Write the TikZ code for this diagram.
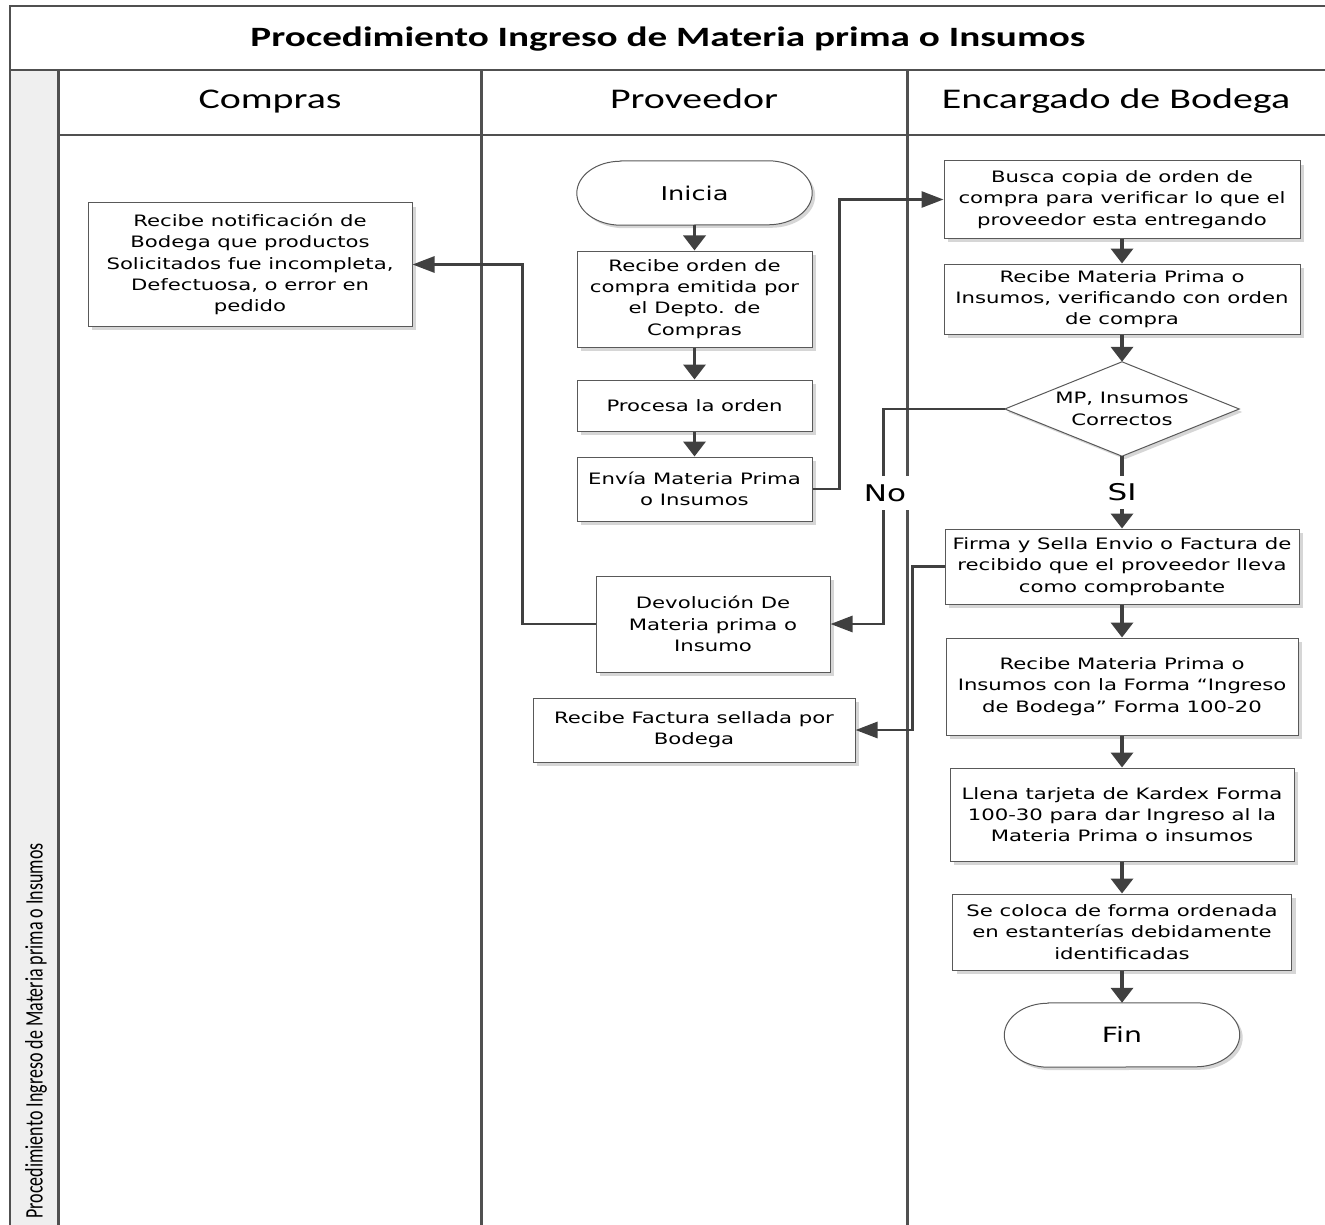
\documentclass[tikz,border=0pt]{standalone}
\usepackage{fontspec}
\usepackage{graphicx}
\newfontfamily\boxfont[FakeStretch=1.35]{DejaVu Sans}
\newfontfamily\lanefont[FakeStretch=1.4]{Carlito}
\newfontfamily\sidefont{Carlito}
\usetikzlibrary{arrows.meta,shadows,backgrounds}

\definecolor{linegray}{HTML}{404040}
\definecolor{framegray}{HTML}{505050}
\definecolor{boxgray}{HTML}{595959}
\definecolor{stripgray}{HTML}{EFEFEF}
\definecolor{shadowgray}{HTML}{D6D6D6}

\begin{document}
\begin{tikzpicture}[x=1pt, y=-1pt,
    frame/.style={draw=framegray, line width=2pt},
    lane/.style={draw=framegray, line width=3pt},
    task/.style={rectangle, draw=boxgray, line width=1pt, fill=white, inner sep=0pt, align=center,
        font=\boxfont\fontsize{15.7pt}{21.3pt}\selectfont,
        drop shadow={shadow xshift=4pt, shadow yshift=-4pt, fill=shadowgray, opacity=1}},
    term/.style={rectangle, inner sep=0pt, minimum width=235pt, minimum height=64pt},
    termline/.style={draw=boxgray, line width=1pt, fill=white,
        drop shadow={shadow xshift=3pt, shadow yshift=-3pt, fill=shadowgray, opacity=1}},
    decide/.style={rectangle, inner sep=0pt, align=center, minimum width=234pt, minimum height=94pt,
        font=\boxfont\fontsize{15.7pt}{21.3pt}\selectfont},
    vflow/.style={draw=linegray, line width=3.6pt, -{Triangle[length=15pt,width=22pt]}},
    hflow/.style={draw=linegray, line width=2.8pt, -{Triangle[length=22pt,width=16pt]}},
    yesno/.style={fill=white, inner xsep=6pt, inner ysep=8pt, font=\boxfont\fontsize{23pt}{26pt}\selectfont},
    lanehead/.style={font=\lanefont\fontsize{28.5pt}{32pt}\selectfont, text height=18pt, text depth=6pt}
]
\useasboundingbox (0,0) rectangle (1325,1225);

% Pool frame and lanes
\fill[stripgray] (10,70) rectangle (58,1225);
\draw[frame] (10,1225) -- (10,6) -- (1325,6);
\draw[frame] (10,70) -- (1325,70);
\draw[frame] (58,135) -- (1325,135);
\draw[lane] (58,70) -- (58,1225);
\draw[lane] (481,70) -- (481,1225);
\draw[lane] (907,70) -- (907,1225);

\node[font=\lanefont\bfseries\fontsize{28pt}{32pt}\selectfont] (title) at (668,39) {Procedimiento Ingreso de Materia prima o Insumos};
\node[lanehead] (hcompras) at (270,103) {Compras};
\node[lanehead] (hprov) at (694,103) {Proveedor};
\node[lanehead] (hbodega) at (1116,103) {Encargado de Bodega};
\node[rotate=90, anchor=west, font=\sidefont\fontsize{18pt}{20pt}\selectfont] (side) at (36,1222)
    {\scalebox{1}[1.4]{Procedimiento Ingreso de Materia prima o Insumos}};

% Proveedor
\node[term, font=\boxfont\fontsize{19pt}{22pt}\selectfont] (ini) at (694.5,193) {Inicia};
\node[task, minimum width=235pt, minimum height=96pt] (rord) at (694.5,299) {Recibe orden de\\compra emitida por\\el Depto. de\\Compras};
\node[task, minimum width=235pt, minimum height=51pt] (proc) at (694.5,405.5) {Procesa la orden};
\node[task, minimum width=235pt, minimum height=64pt] (envia) at (694.5,489) {Envía Materia Prima\\o Insumos};
\node[task, minimum width=234pt, minimum height=96pt] (devo) at (713,624) {Devolución De\\Materia prima o\\Insumo};
\node[task, minimum width=322pt, minimum height=64pt] (rfact) at (694,730) {Recibe Factura sellada por\\Bodega};

% Compras
\node[task, minimum width=324pt, minimum height=123pt] (rnot) at (250,264.5) {Recibe notificación de\\Bodega que productos\\Solicitados fue incompleta,\\Defectuosa, o error en\\pedido};

% Encargado de Bodega
\node[task, minimum width=356pt, minimum height=77pt] (busca) at (1122,199.5) {Busca copia de orden de\\compra para verificar lo que el\\proveedor esta entregando};
\node[task, minimum width=356pt, minimum height=70pt] (rmp) at (1122,299) {Recibe Materia Prima o\\Insumos, verificando con orden\\de compra};
\node[decide] (dec) at (1122,409) {MP, Insumos\\Correctos};
\node[task, minimum width=354pt, minimum height=75pt] (firma) at (1122,566.5) {Firma y Sella Envio o Factura de\\recibido que el proveedor lleva\\como comprobante};
\node[task, minimum width=352pt, minimum height=97pt] (rforma) at (1122,686.5) {Recibe Materia Prima o\\Insumos con la Forma “Ingreso\\de Bodega” Forma 100-20};
\node[task, minimum width=344pt, minimum height=93pt] (llena) at (1122,814.5) {Llena tarjeta de Kardex Forma\\100-30 para dar Ingreso al la\\Materia Prima o insumos};
\node[task, minimum width=339pt, minimum height=76pt] (coloca) at (1122,932) {Se coloca de forma ordenada\\en estanterías debidamente\\identificadas};
\node[term, font=\boxfont\fontsize{21pt}{24pt}\selectfont] (fin) at (1122,1035) {Fin};

% Terminal and decision outlines
\begin{scope}[on background layer]
\draw[termline] ([xshift=44pt]ini.north west) -- ([xshift=-44pt]ini.north east)
    arc[start angle=90, end angle=-90, x radius=44pt, y radius=32pt]
    -- ([xshift=44pt]ini.south west)
    arc[start angle=270, end angle=90, x radius=44pt, y radius=32pt] -- cycle;
\draw[termline] ([xshift=44pt]fin.north west) -- ([xshift=-44pt]fin.north east)
    arc[start angle=90, end angle=-90, x radius=44pt, y radius=32pt]
    -- ([xshift=44pt]fin.south west)
    arc[start angle=270, end angle=90, x radius=44pt, y radius=32pt] -- cycle;
\draw[termline] (dec.north) -- (dec.east) -- (dec.south) -- (dec.west) -- cycle;
\end{scope}

% Flow
\draw[vflow] (ini) -- (rord);
\draw[vflow] (rord) -- (proc);
\draw[vflow] (proc) -- (envia);
\draw[hflow] (envia.east) -- ++(27,0) |- (busca.west);
\draw[vflow] (busca) -- (rmp);
\draw[vflow] (rmp) -- (dec);
\draw[vflow] (dec) -- node[yesno] (si) {SI} (firma);
\draw[hflow] (dec.west) -| ([xshift=53pt]devo.east) -- (devo.east);
\draw[hflow] (devo.west) -- ++(-73,0) |- (rnot.east);
\draw[hflow] (firma.west) -- ++(-32,0) |- (rfact.east);
\draw[vflow] (firma) -- (rforma);
\draw[vflow] (rforma) -- (llena);
\draw[vflow] (llena) -- (coloca);
\draw[vflow] (coloca) -- (fin);
\node[yesno] (no) at (885,493) {No};

\end{tikzpicture}
\end{document}
